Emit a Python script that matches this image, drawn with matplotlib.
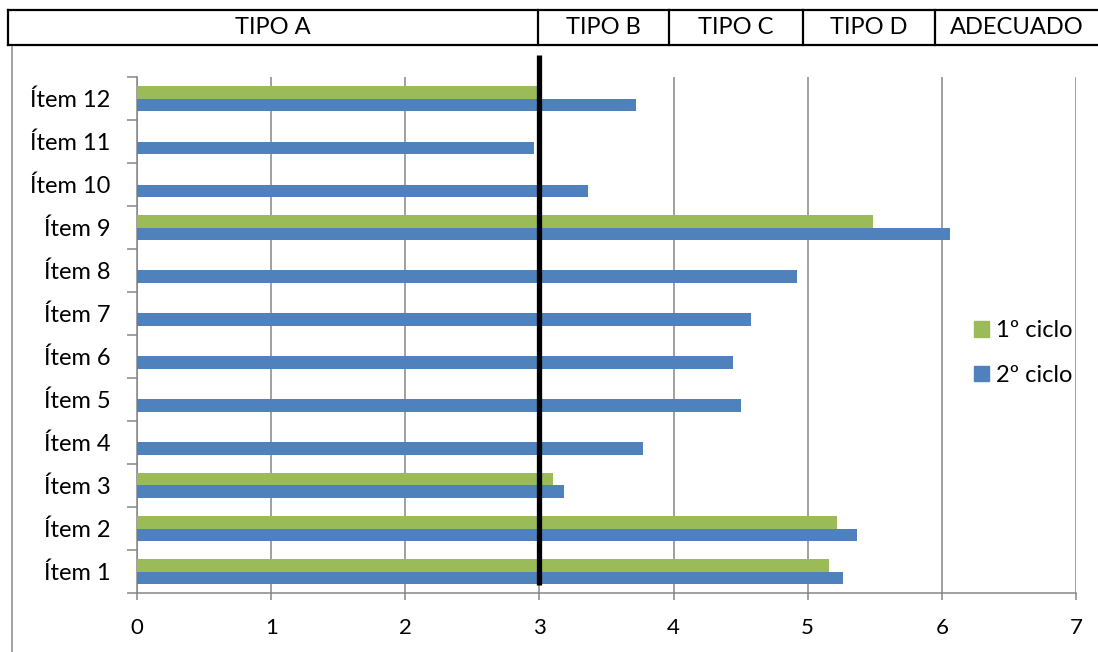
import matplotlib
matplotlib.use("Agg")
import matplotlib.pyplot as plt
import matplotlib.patches as mpatches
from matplotlib.lines import Line2D
import numpy as np

# --- datos ---
ITEMS = ["Ítem 1", "Ítem 2", "Ítem 3", "Ítem 4", "Ítem 5", "Ítem 6",
         "Ítem 7", "Ítem 8", "Ítem 9", "Ítem 10", "Ítem 11", "Ítem 12"]
CICLO_1 = [5.16, 5.22, 3.10, 0, 0, 0, 0, 0, 5.49, 0, 0, 2.98]
CICLO_2 = [5.26, 5.37, 3.18, 3.77, 4.50, 4.44, 4.58, 4.92, 6.06, 3.36, 2.96, 3.72]
SERIES_NAMES = ["1º ciclo", "2º ciclo"]
HEADER = ["TIPO A", "TIPO B", "TIPO C", "TIPO D", "ADECUADO"]
UMBRAL = 3

VERDE = "#9BBB59"
AZUL = "#4F81BD"
GRIS = "#868686"

plt.rcParams['font.family'] = ['Lato', 'DejaVu Sans']

W, H = 1098, 652
fig = plt.figure(figsize=(W / 100, H / 100), dpi=100)
ax = fig.add_axes([137 / W, 1 - 593 / H, (1076 - 137) / W, (593 - 77) / H])

y = np.arange(len(ITEMS))
bh = 0.28
c1 = np.array(CICLO_1)
m1 = c1 > 0
ax.barh(y[m1] + bh / 2, c1[m1], height=bh, color=VERDE, zorder=3)
ax.barh(y - bh / 2, CICLO_2, height=bh, color=AZUL, zorder=3)

ax.set_xlim(0, 7)
ax.set_ylim(-0.5, len(ITEMS) - 0.5)
ax.set_xticks(range(0, 8))
ax.set_yticks(y)
ax.set_yticklabels(ITEMS, fontsize=17)
ax.set_yticks(np.arange(-0.5, len(ITEMS)), minor=True)
ax.tick_params(axis='y', which='major', length=0, pad=19)
ax.tick_params(axis='y', which='minor', length=7, width=1.1, color=GRIS)
ax.tick_params(axis='x', length=5, width=1.1, color=GRIS, labelsize=16, pad=13)

ax.grid(axis='x', color=GRIS, linewidth=1.1, zorder=0)
for s in ['top', 'right']:
    ax.spines[s].set_visible(False)
for s in ['left', 'bottom']:
    ax.spines[s].set_color(GRIS)
    ax.spines[s].set_linewidth(1.1)

# linea umbral
ax.vlines(UMBRAL, 0.016, 1.043, transform=ax.get_xaxis_transform(),
          color='black', linewidth=3.8, clip_on=False, zorder=5)

# leyenda
handles = [mpatches.Patch(color=VERDE), mpatches.Patch(color=AZUL)]
fig.legend(handles, SERIES_NAMES, loc='center left',
           bbox_to_anchor=(974 / W, 1 - 353 / H), frameon=False,
           fontsize=17, handlelength=0.65, handleheight=0.65,
           handletextpad=0.3, labelspacing=1.0, borderpad=0, borderaxespad=0)

# cabecera
edges = [8, 538, 669, 803, 935, 1110]
top, bot = 1 - 10 / H, 1 - 45 / H
fig.add_artist(Line2D([8 / W, 1], [top, top], color='black', lw=1.6))
fig.add_artist(Line2D([8 / W, 1], [bot, bot], color='black', lw=1.6))
for e in edges[:-1]:
    fig.add_artist(Line2D([e / W, e / W], [top, bot], color='black', lw=1.6))
for i, name in enumerate(HEADER):
    cx = (edges[i] + min(edges[i + 1], 1098)) / 2
    fig.text(cx / W, (top + bot) / 2, name, ha='center', va='center', fontsize=17)

# borde del area del grafico
fig.add_artist(Line2D([12 / W, 12 / W], [0, 1 - 47 / H], color=GRIS, lw=1.1))

fig.savefig("out.png", dpi=100)
